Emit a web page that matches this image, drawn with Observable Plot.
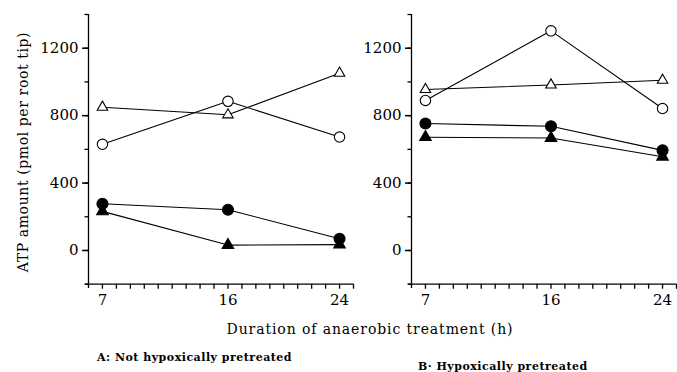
<!DOCTYPE html>
<html>
<head>
<meta charset="utf-8">
<script src="https://cdn.jsdelivr.net/npm/d3@7"></script>
<script src="https://cdn.jsdelivr.net/npm/@observablehq/plot@0.6"></script>
<style>
  body { margin: 0; background: #fff; }
  #wrap { position: relative; width: 677px; height: 372px; overflow: hidden; background: #fff; }
  #wrap svg { position: absolute; top: 0; }
  .txt { position: absolute; font-family: "DejaVu Serif", serif; color: #000; white-space: nowrap; }
</style>
</head>
<body>
<div id="wrap"></div>
<script>
// ---- data ----
const hours = [7, 16, 24];
const xTickLabels = [7, 16, 24];
const yTickLabels = [0, 400, 800, 1200];
const xMinorTicks = d3.range(7, 26);
const yMinorTicks = d3.range(-200, 1401, 200);

// Panel A: Not hypoxically pretreated
const aOpenTriangle = [850, 805, 1052];
const aOpenCircle   = [630, 885, 673];
const aFilledCircle = [277, 242, 70];
const aFilledTriangle = [232, 32, 35];

// Panel B: Hypoxically pretreated
const bOpenCircle   = [890, 1303, 842];
const bOpenTriangle = [955, 982, 1010];
const bFilledCircle = [753, 737, 594];
const bFilledTriangle = [672, 667, 556];

const xLabel = "Duration of anaerobic treatment (h)";
const yLabel = "ATP amount (pmol per root tip)";
const captionA = "A:  Not hypoxically pretreated";
const captionB = "B·  Hypoxically pretreated";

function rows(name, values) {
  return hours.map((h, i) => ({series: name, hour: h, value: values[i]}));
}

const styleOf = {
  "open triangle": {symbol: "triangle", fill: "white", r: 3.9},
  "open circle": {symbol: "circle", fill: "white", r: 5.2},
  "filled circle": {symbol: "circle", fill: "black", r: 5.5},
  "filled triangle": {symbol: "triangle", fill: "black", r: 4.3}
};

function panel(seriesData, marginLeft, width, left) {
  const marks = [
    Plot.ruleX([6], {y1: -225, y2: 1400, stroke: "black", strokeWidth: 1.3}),
    Plot.ruleY([-200], {x1: 5.8, x2: 25, stroke: "black", strokeWidth: 1.3}),
    Plot.axisY({ticks: yMinorTicks, tickSize: 3.5, tickFormat: () => "", stroke: "black", strokeWidth: 1.3}),
    Plot.axisY({ticks: yTickLabels, tickSize: 6, tickPadding: 4, fontSize: 15, stroke: "black", strokeWidth: 1.5,
      tickFormat: d => String(d)}),
    Plot.axisX({ticks: xMinorTicks, tickSize: 5, tickPadding: 5, fontSize: 15, stroke: "black", strokeWidth: 1.3,
      tickFormat: d => xTickLabels.includes(d) ? String(d) : ""})
  ];
  for (const [name, vals] of seriesData) {
    const d = rows(name, vals);
    const s = styleOf[name];
    marks.push(Plot.line(d, {x: "hour", y: "value", stroke: "black", strokeWidth: 1.1}));
    marks.push(Plot.dot(d, {x: "hour", y: "value", symbol: () => s.symbol, r: s.r, fill: s.fill, stroke: "black", strokeWidth: 1.1}));
  }
  const svg = Plot.plot({
    width, height: 312,
    marginLeft, marginRight: width - marginLeft - 265, marginTop: 14, marginBottom: 312 - 283.7,
    x: {domain: [6, 25], label: null, axis: null},
    y: {domain: [-200, 1400], label: null, axis: null},
    symbol: {type: "identity"},
    style: {fontFamily: "DejaVu Serif", fontSize: "15px", color: "black", background: "transparent", overflow: "visible"},
    marks
  });
  svg.style.left = left + "px";
  return svg;
}

const wrap = document.getElementById("wrap");
wrap.appendChild(panel([
  ["open triangle", aOpenTriangle],
  ["open circle", aOpenCircle],
  ["filled circle", aFilledCircle],
  ["filled triangle", aFilledTriangle]
], 88, 360, 0));
wrap.appendChild(panel([
  ["open triangle", bOpenTriangle],
  ["open circle", bOpenCircle],
  ["filled circle", bFilledCircle],
  ["filled triangle", bFilledTriangle]
], 71, 337, 340));

function addText(str, css) {
  const el = document.createElement("div");
  el.className = "txt";
  el.textContent = str;
  Object.assign(el.style, css);
  wrap.appendChild(el);
  return el;
}
addText(yLabel, {left: "23px", top: "152px", fontSize: "14px", letterSpacing: "0.6px", transform: "translate(-50%,-50%) rotate(-90deg)"});
addText(xLabel, {left: "370px", top: "329px", fontSize: "14px", letterSpacing: "0.9px", transform: "translate(-50%,-50%)"});
addText(captionA, {left: "97px", top: "357px", fontSize: "11px", letterSpacing: "0.5px", fontWeight: "bold", transform: "translate(0,-50%)"});
addText(captionB, {left: "418px", top: "366px", fontSize: "11px", letterSpacing: "0.5px", fontWeight: "bold", transform: "translate(0,-50%)"});
</script>
</body>
</html>
